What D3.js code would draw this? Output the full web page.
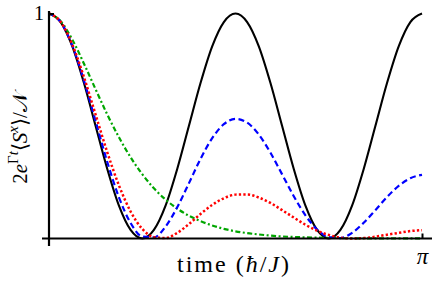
<!DOCTYPE html>
<html>
<head>
<meta charset="utf-8">
<script src="https://cdn.jsdelivr.net/npm/d3@7"></script>
<style>
  body { margin: 0; background: #fff; }
</style>
</head>
<body>
<svg width="436" height="282"></svg>
<script>
// sample times, 0..pi in 32 steps
var timeGrid = d3.range(33).map(function(k) { return k * Math.PI / 32; });

// values
var blackVals = [1, .962, .854, .691, .5, .309, .146, .038, 0, .038, .146, .309, .5, .691, .854, .962, 1,
                 .962, .854, .691, .5, .309, .146, .038, 0, .038, .146, .309, .5, .691, .854, .962, 1];
var blueVals = [1, .962, .857, .702, .521, .340, .183, .069, .009, .005, .053, .139, .245, .354, .446, .508, .532,
                .515, .462, .381, .285, .188, .103, .040, .006, .002, .025, .070, .126, .184, .234, .268, .283];
var redVals = [1, .963, .862, .717, .550, .383, .236, .120, .043, .006, .002, .025, .064, .109, .149, .179, .195,
               .196, .182, .158, .126, .093, .061, .035, .016, .004, 0, .002, .008, .017, .025, .033, .037];
var greenVals = [1, .966, .884, .777, .663, .551, .450, .361, .286, .223, .173, .133, .101, .077, .058, .043, .032,
                 .024, .018, .013, .009, .007, .005, .004, .003, .002, .001, .001, .001, .0005, .0004, .0003, .0002];

var xTickVals = [Math.PI];
var xTickLabels = ["π"];
var yTickVals = [1];
var yTickLabels = ["1"];

var svg = d3.select("svg");
var x = d3.scaleLinear().domain([0, Math.PI]).range([49, 422]);
var y = d3.scaleLinear().domain([0, 1]).range([238.5, 13.5]);

var line = d3.line()
  .x(function(d, i) { return x(timeGrid[i]); })
  .y(function(d) { return y(d); })
  .curve(d3.curveMonotoneX);

var series = [
  { vals: blackVals, color: "#000", dash: null, w: 2.1 },
  { vals: greenVals, color: "#00a600", dash: "5,2.5,2,2.5", w: 2.2 },
  { vals: blueVals, color: "#0000ff", dash: "6,3.5", w: 2.2 },
  { vals: redVals, color: "#ff0000", dash: "2.3,2.2", w: 2.5 }
];

svg.selectAll("path.curve")
  .data(series)
  .enter().append("path")
  .attr("class", "curve")
  .attr("d", function(s) { return line(s.vals); })
  .attr("fill", "none")
  .attr("stroke", function(s) { return s.color; })
  .attr("stroke-width", function(s) { return s.w; })
  .attr("stroke-dasharray", function(s) { return s.dash; });

// axes
var xAxis = svg.append("g")
  .attr("transform", "translate(0," + y(0) + ")")
  .call(d3.axisBottom(x).tickValues(xTickVals)
    .tickFormat(function(d, i) { return xTickLabels[i]; })
    .tickSize(-5).tickPadding(9));
var yAxis = svg.append("g")
  .attr("transform", "translate(" + x(0) + ",0)")
  .call(d3.axisLeft(y).tickValues(yTickVals)
    .tickFormat(function(d, i) { return yTickLabels[i]; })
    .tickSize(-5).tickPadding(5));

svg.selectAll(".domain").remove();
svg.selectAll(".tick line").attr("stroke", "#000").attr("stroke-width", 2);
xAxis.selectAll("text")
  .attr("font-family", "'Liberation Serif', serif")
  .attr("font-style", "italic")
  .attr("font-size", 23)
  .attr("fill", "#000");
yAxis.selectAll("text")
  .attr("font-family", "'Liberation Serif', serif")
  .attr("font-size", 20)
  .attr("fill", "#000");

svg.append("line")
  .attr("x1", x(0) - 7).attr("x2", x(Math.PI) + 10)
  .attr("y1", y(0)).attr("y2", y(0))
  .attr("stroke", "#000").attr("stroke-width", 2.2);
svg.append("line")
  .attr("x1", x(0)).attr("x2", x(0))
  .attr("y1", y(1) - 2.5).attr("y2", y(0) + 7.5)
  .attr("stroke", "#000").attr("stroke-width", 2.2);

// axis titles
var xt = svg.append("text")
  .attr("x", 233).attr("y", 272)
  .attr("text-anchor", "middle")
  .attr("font-family", "'Liberation Serif', serif")
  .attr("font-size", 24)
  .attr("textLength", 112)
  .attr("lengthAdjust", "spacing");
xt.append("tspan").text("time (");
xt.append("tspan").attr("font-style", "italic").text("ħ");
xt.append("tspan").text("/");
xt.append("tspan").attr("font-style", "italic").text("J");
xt.append("tspan").text(")");

var yt = svg.append("text")
  .attr("transform", "translate(27,138) rotate(-90)")
  .attr("text-anchor", "middle")
  .attr("font-family", "'Liberation Serif', serif")
  .attr("font-size", 21);
yt.append("tspan").text("2");
yt.append("tspan").attr("font-style", "italic").text("e");
yt.append("tspan").attr("font-size", 15).attr("dy", -9).text("Γ");
yt.append("tspan").attr("font-size", 15).attr("font-style", "italic").text("t");
yt.append("tspan").attr("dy", 9).text("⟨");
yt.append("tspan").attr("font-style", "italic").text("S");
yt.append("tspan").attr("font-size", 15).attr("font-style", "italic").attr("dy", -9).text("x");
yt.append("tspan").attr("dy", 9).text("⟩/");
yt.append("tspan").text("𝒩");
</script>
</body>
</html>
